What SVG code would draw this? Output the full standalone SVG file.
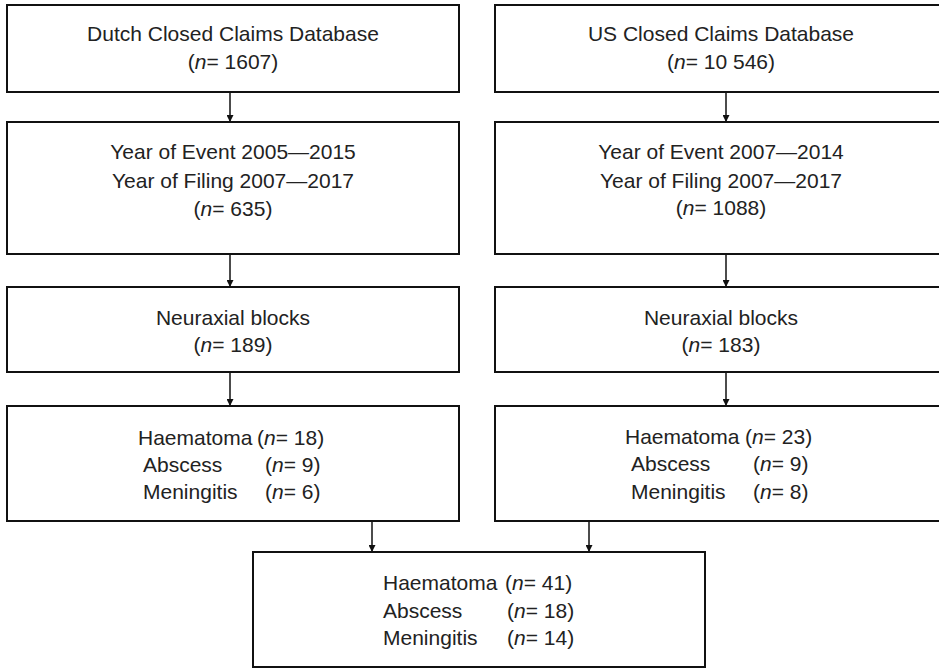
<svg xmlns="http://www.w3.org/2000/svg" width="939" height="669" viewBox="0 0 939 669">
<defs>
<style>
.box{fill:#fff;stroke:#111;stroke-width:2}
.t{font-family:"Liberation Sans",Arial,sans-serif;font-size:21px;fill:#222}
.c{text-anchor:middle}
.i{font-style:italic}
.con{stroke:#111;stroke-width:1.5;fill:none}
</style>
<marker id="ah" viewBox="0 0 10 10" refX="10" refY="5" markerWidth="7" markerHeight="7" markerUnits="userSpaceOnUse" orient="auto">
<path d="M0,0 L10,5 L0,10 z" fill="#111"/>
</marker>
</defs>
<rect width="939" height="669" fill="#fff"/>
<g id="connectors">
<line class="con" x1="230" y1="92" x2="230" y2="122" marker-end="url(#ah)"/>
<line class="con" x1="230" y1="254" x2="230" y2="287" marker-end="url(#ah)"/>
<line class="con" x1="230" y1="372" x2="230" y2="406" marker-end="url(#ah)"/>
<line class="con" x1="372" y1="521" x2="372" y2="552" marker-end="url(#ah)"/>
<line class="con" x1="726" y1="92" x2="726" y2="122" marker-end="url(#ah)"/>
<line class="con" x1="726" y1="254" x2="726" y2="287" marker-end="url(#ah)"/>
<line class="con" x1="726" y1="372" x2="726" y2="406" marker-end="url(#ah)"/>
<line class="con" x1="589" y1="521" x2="589" y2="552" marker-end="url(#ah)"/>
</g>
<g id="nl-db">
<rect class="box" x="7" y="5" width="452" height="87"/>
<text class="t c" x="233" y="41">Dutch Closed Claims Database</text>
<text class="t c" x="233" y="69">(<tspan class="i">n</tspan>= 1607)</text>
</g>
<g id="us-db">
<rect class="box" x="495" y="5" width="452" height="87"/>
<text class="t c" x="721" y="41">US Closed Claims Database</text>
<text class="t c" x="721" y="69">(<tspan class="i">n</tspan>= 10 546)</text>
</g>
<g id="nl-years">
<rect class="box" x="7" y="122" width="452" height="132"/>
<text class="t c" x="233" y="159">Year of Event 2005—2015</text>
<text class="t c" x="233" y="188">Year of Filing 2007—2017</text>
<text class="t c" x="233" y="216">(<tspan class="i">n</tspan>= 635)</text>
</g>
<g id="us-years">
<rect class="box" x="495" y="122" width="452" height="132"/>
<text class="t c" x="721" y="159">Year of Event 2007—2014</text>
<text class="t c" x="721" y="188">Year of Filing 2007—2017</text>
<text class="t c" x="721" y="215">(<tspan class="i">n</tspan>= 1088)</text>
</g>
<g id="nl-neuraxial">
<rect class="box" x="7" y="287" width="452" height="85"/>
<text class="t c" x="233" y="325">Neuraxial blocks</text>
<text class="t c" x="233" y="352">(<tspan class="i">n</tspan>= 189)</text>
</g>
<g id="us-neuraxial">
<rect class="box" x="495" y="287" width="452" height="85"/>
<text class="t c" x="721" y="325">Neuraxial blocks</text>
<text class="t c" x="721" y="352">(<tspan class="i">n</tspan>= 183)</text>
</g>
<g id="nl-outcomes">
<rect class="box" x="7" y="406" width="452" height="115"/>
<text class="t" x="138" y="445">Haematoma</text>
<text class="t" x="257" y="445">(<tspan class="i">n</tspan>= 18)</text>
<text class="t" x="143" y="472">Abscess</text>
<text class="t" x="265" y="472">(<tspan class="i">n</tspan>= 9)</text>
<text class="t" x="143" y="499">Meningitis</text>
<text class="t" x="265" y="499">(<tspan class="i">n</tspan>= 6)</text>
</g>
<g id="us-outcomes">
<rect class="box" x="495" y="406" width="452" height="115"/>
<text class="t" x="625" y="444">Haematoma</text>
<text class="t" x="745" y="444">(<tspan class="i">n</tspan>= 23)</text>
<text class="t" x="631" y="471">Abscess</text>
<text class="t" x="753" y="471">(<tspan class="i">n</tspan>= 9)</text>
<text class="t" x="631" y="499">Meningitis</text>
<text class="t" x="753" y="499">(<tspan class="i">n</tspan>= 8)</text>
</g>
<g id="combined">
<rect class="box" x="253" y="552" width="452" height="115"/>
<text class="t" x="383" y="590">Haematoma</text>
<text class="t" x="505" y="590">(<tspan class="i">n</tspan>= 41)</text>
<text class="t" x="383" y="618">Abscess</text>
<text class="t" x="507" y="618">(<tspan class="i">n</tspan>= 18)</text>
<text class="t" x="383" y="645">Meningitis</text>
<text class="t" x="507" y="645">(<tspan class="i">n</tspan>= 14)</text>
</g>
</svg>
